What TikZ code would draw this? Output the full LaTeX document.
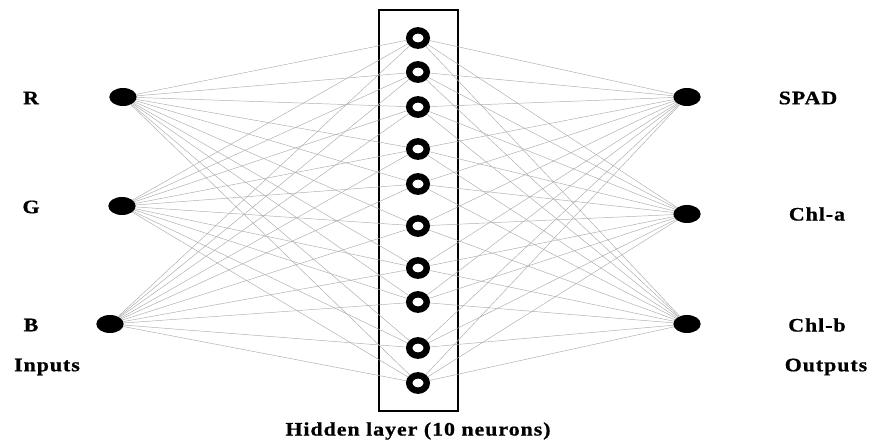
\documentclass[tikz,border=0pt]{standalone}
\usepackage{fontspec}
\setmainfont{Liberation Serif}[FakeStretch=1.15,LetterSpace=5,BoldFeatures={FakeBold=0.8}]
\usetikzlibrary{shapes.geometric}
\begin{document}
\begin{tikzpicture}[x=0.75pt,y=-0.75pt,
  io/.style={ellipse,fill=black,minimum width=20.5pt,minimum height=13.5pt,inner sep=0pt,outer sep=0pt},
  hid/.style={ellipse,draw=black,line width=4.8pt,minimum width=13.2pt,minimum height=11.5pt,inner sep=0pt},
  lbl/.style={font=\fontsize{14.3pt}{16pt}\selectfont\bfseries,inner sep=0pt},
  conn/.style={draw=black!32,line width=0.35pt}]
\useasboundingbox (0,0) rectangle (879,441);
% layer box
\draw[line width=1.2pt] (379,10) rectangle (458,411);
% inputs
\node[io] (R) at (123,97) {};
\node[io] (G) at (122,206) {};
\node[io] (B) at (110,324) {};
% outputs
\node[io] (SPAD) at (687,97) {};
\node[io] (Cha) at (687,214) {};
\node[io] (Chb) at (687,324) {};
% hidden
\foreach \i/\y in {1/38,2/72,3/107,4/149,5/184,6/226,7/268,8/302,9/348,10/383}
  \node[hid] (h\i) at (418,\y) {};
% connections
\foreach \i in {1,...,10}{
  \foreach \s in {R,G,B} \draw[conn] (\s) -- (h\i);
  \foreach \t in {SPAD,Cha,Chb} \draw[conn] (h\i) -- (\t);
}
% labels
\node[lbl] (lR) at (31,98) {R};
\node[lbl] (lG) at (31,207) {G};
\node[lbl] (lB) at (31,325) {B};
\node[lbl] (lin) at (47,367) {Inputs};
\node[lbl] (lS) at (808,98) {SPAD};
\node[lbl] (lCa) at (817,214) {Chl-a};
\node[lbl] (lCb) at (817,325) {Chl-b};
\node[lbl] (lout) at (826,367) {Outputs};
\node[lbl] (lh) at (418,431) {Hidden layer (10 neurons)};
\end{tikzpicture}
\end{document}
